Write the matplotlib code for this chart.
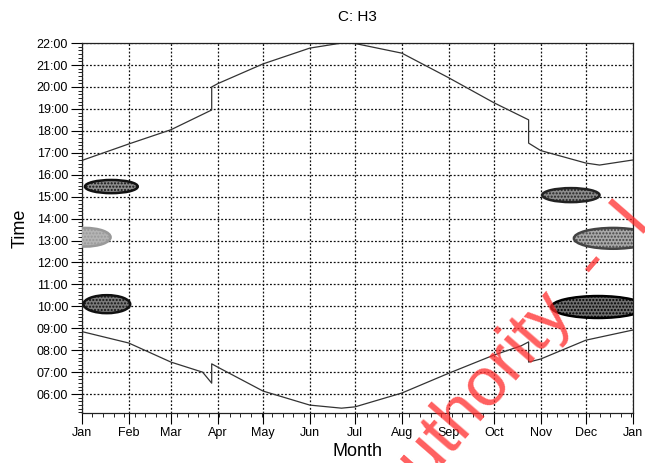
import numpy as np
import matplotlib.pyplot as plt
from matplotlib.patches import Ellipse
from matplotlib.ticker import FixedLocator, MultipleLocator, FuncFormatter

# month starts (day of year)
month_days = [0, 31, 59, 90, 120, 151, 181, 212, 243, 273, 304, 334, 365]
month_labels = ['Jan', 'Feb', 'Mar', 'Apr', 'May', 'Jun', 'Jul',
                'Aug', 'Sep', 'Oct', 'Nov', 'Dec', 'Jan']

# sunset (hours)
sunset_day = [0, 31, 59, 86, 86, 90, 120, 151, 172, 181, 212, 243, 273,
              296, 296, 304, 334, 343, 365]
sunset_hr = [16.65, 17.4, 18.05, 18.95, 20.0, 20.15, 21.05, 21.77, 22.0,
             21.98, 21.54, 20.42, 19.28, 18.5, 17.44, 17.1, 16.53, 16.44, 16.67]

# sunrise (hours)
sunrise_day = [0, 31, 59, 80, 86, 86, 90, 120, 151, 172, 181, 212, 243, 273,
               291, 296, 296, 304, 334, 365]
sunrise_hr = [8.85, 8.33, 7.46, 7.0, 6.5, 7.38, 7.23, 6.14, 5.5, 5.36, 5.42,
              6.05, 6.95, 7.78, 8.2, 8.38, 7.46, 7.6, 8.46, 8.92]

# blobs: centre day, width (days), centre hour, height (hours), fill, edge
blob_x = [19.5, 2, 16.5, 324, 352, 342]
blob_w = [35, 34, 31, 38, 52, 62]
blob_y = [15.46, 13.15, 10.1, 15.07, 13.1, 9.97]
blob_h = [0.6, 0.85, 0.82, 0.64, 0.95, 1.0]
blob_fill = ['#8c8c8c', '#b4b4b4', '#7a7a7a', '#8c8c8c', '#a8a8a8', '#6e6e6e']
blob_edge = ['#111111', '#999999', '#111111', '#222222', '#444444', '#000000']

plt.rcParams['font.family'] = ['Liberation Sans', 'DejaVu Sans']

fig = plt.figure(figsize=(6.45, 4.63), dpi=100)
ax = fig.add_axes([0.127, 0.108, 0.854, 0.799])

ax.plot(sunset_day, sunset_hr, color='#333333', lw=0.9)
ax.plot(sunrise_day, sunrise_hr, color='#333333', lw=0.9)

for cx, w, cy, h, fc, ec in zip(blob_x, blob_w, blob_y, blob_h, blob_fill, blob_edge):
    ax.add_patch(Ellipse((cx, cy), w, h, facecolor=fc, edgecolor=ec,
                         lw=1.8, hatch='.....', zorder=3))

ax.set_xlim(0, 365)
ax.set_ylim(5.14, 22)
ax.xaxis.set_major_locator(FixedLocator(month_days))
ax.set_xticklabels(month_labels)
ax.xaxis.set_minor_locator(MultipleLocator(7))
ax.yaxis.set_major_locator(FixedLocator(range(6, 23)))
ax.yaxis.set_minor_locator(MultipleLocator(1 / 6))
ax.yaxis.set_major_formatter(FuncFormatter(lambda v, p: '%02d:00' % int(round(v))))

ax.grid(True, which='major', color='#111111', linestyle=(0, (1.5, 1.5)), lw=0.9)
for s in ax.spines.values():
    s.set_color('#222222')
    s.set_linestyle((0, (1.5, 1)))
    s.set_linewidth(0.9)

ax.tick_params(which='major', length=8, width=0.8, labelsize=9, pad=2)
ax.tick_params(which='minor', length=3, width=0.6)

ax.set_title('C: H3', fontsize=11, pad=16)
ax.set_xlabel('Month', fontsize=13, labelpad=3)
ax.set_ylabel('Time', fontsize=13, labelpad=6)

# watermark
fig.text(0.612, -0.125, 'Authority  -  I', color='#ff2a2a', alpha=0.75,
         fontsize=50, rotation=49, rotation_mode='anchor', ha='left', va='baseline')

fig.savefig('out.png', dpi=100)
